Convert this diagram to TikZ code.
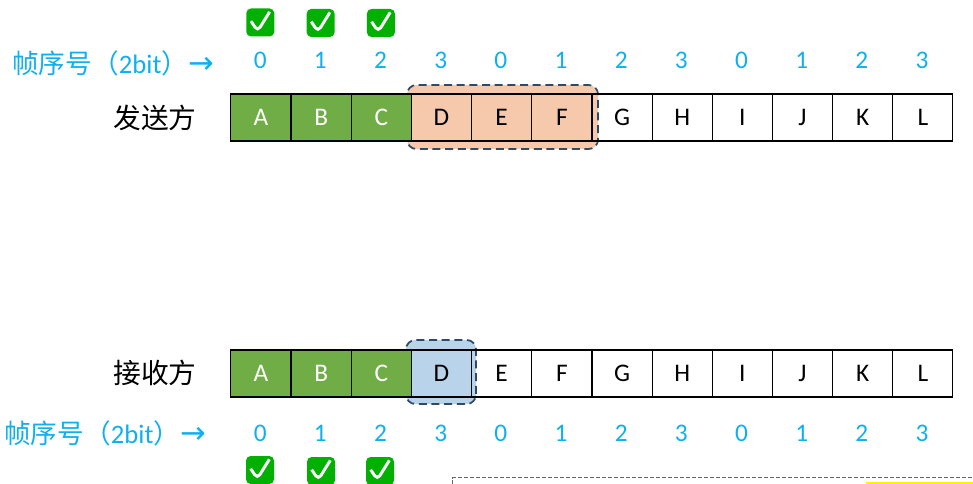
\documentclass[tikz,border=0pt]{standalone}
\usepackage{fontspec}
\setmainfont{Carlito}
\newfontfamily\cjk{Noto Sans CJK SC}
\newfontfamily\arrowfont{DejaVu Sans}
\usepackage{tikz}

\definecolor{seqblue}{HTML}{0FB0F0}
\definecolor{ackgreen}{HTML}{70AD47}
\definecolor{sendfill}{HTML}{F6C8AC}
\definecolor{recvfill}{HTML}{B9D3EB}
\definecolor{winedge}{HTML}{2F4A66}
\definecolor{tickgreen}{HTML}{02B002}

\tikzset{
  cellbox/.style={draw=black,line width=0.85pt,minimum width=45.1pt,minimum height=35.2pt,inner sep=0pt,
    font=\fontsize{19}{21}\selectfont},
  donecell/.style={cellbox,fill=ackgreen,text=white},
  seqnum/.style={text=seqblue,inner sep=0pt,font=\fontsize{19}{21}\selectfont},
  seqlabel/.style={text=seqblue,anchor=west,inner sep=0pt,font=\fontsize{20}{22}\selectfont},
  sidelabel/.style={anchor=west,inner sep=0pt,font=\fontsize{20.8}{22}\cjk},
  window/.style={draw=winedge,line width=1.3pt,dash pattern=on 6pt off 3.5pt,rounded corners=7pt},
  tickbox/.style={fill=tickgreen,rounded corners=3.5pt,minimum size=21pt,inner sep=0pt,
    path picture={
      \draw[white,line width=2.2pt] ([shift={(-7pt,1pt)}]path picture bounding box.center)
        -- ([shift={(-2pt,-6.5pt)}]path picture bounding box.center)
        -- ([shift={(7pt,8pt)}]path picture bounding box.center);
    }},
}

\begin{document}
\begin{tikzpicture}[x=0.75pt,y=-0.75pt]
    \useasboundingbox (0,0) rectangle (973,484);

    % sender
    \begin{scope}
      \fill[sendfill] (407,85) [rounded corners=7pt] rectangle (598,149);
      \draw[window] (407,85) rectangle (598,149);
      \foreach \x/\lab in {1/A,2/B,3/C} {
          \node[donecell] (send\lab) at (200.8+\x*60.17,117.5) {\lab};
        }
      \foreach \x/\lab in {4/D,5/E,6/F,7/G,8/H,9/I,10/J,11/K,12/L} {
          \node[cellbox] (send\lab) at (200.8+\x*60.17,117.5) {\lab};
        }
      \foreach \x/\n in {1/0,2/1,3/2,4/3,5/0,6/1,7/2,8/3,9/0,10/1,11/2,12/3} {
          \node[seqnum] (sendseq\x) at (200+\x*60.17,60) {\n};
        }
      \foreach \x/\y in {1/22.5,2/23,3/23} {
          \node[tickbox] (sendtick\x) at (200+\x*60.3,\y) {};
        }
      \node[sidelabel] (sendname) at (113,118) {发送方};
      \node[seqlabel] (sendlabel) at (12,63) {{\cjk 帧序号（}2bit{\cjk ）}{\arrowfont\fontsize{23}{24}\selectfont →}};
    \end{scope}

    % receiver
    \begin{scope}
      \fill[recvfill] (406,340) [rounded corners=7pt] rectangle (476,404);
      \draw[window] (406,340) rectangle (476,404);
      \foreach \x/\lab in {1/A,2/B,3/C} {
          \node[donecell] (recv\lab) at (200.8+\x*60.17,373.5) {\lab};
        }
      \foreach \x/\lab in {4/D,5/E,6/F,7/G,8/H,9/I,10/J,11/K,12/L} {
          \node[cellbox] (recv\lab) at (200.8+\x*60.17,373.5) {\lab};
        }
      \foreach \x/\n in {1/0,2/1,3/2,4/3,5/0,6/1,7/2,8/3,9/0,10/1,11/2,12/3} {
          \node[seqnum] (recvseq\x) at (200+\x*60.17,433) {\n};
        }
      \foreach \x/\y/\px in {1/470/260,2/471/321,3/471/380} {
          \node[tickbox] (recvtick\x) at (\px,\y) {};
        }
      \node[sidelabel] (recvname) at (113,373) {接收方};
      \node[seqlabel] (recvlabel) at (4,433) {{\cjk 帧序号（}2bit{\cjk ）}{\arrowfont\fontsize{23}{24}\selectfont →}};
    \end{scope}

    % box cut off by the lower edge
    \draw[gray!80!black,line width=0.8pt,dash pattern=on 3pt off 1.5pt] (452.5,484) -- (452.5,477.5) -- (973,477.5);
    \fill[yellow] (866,482) rectangle (973,484);
  \end{tikzpicture}
\end{document}
